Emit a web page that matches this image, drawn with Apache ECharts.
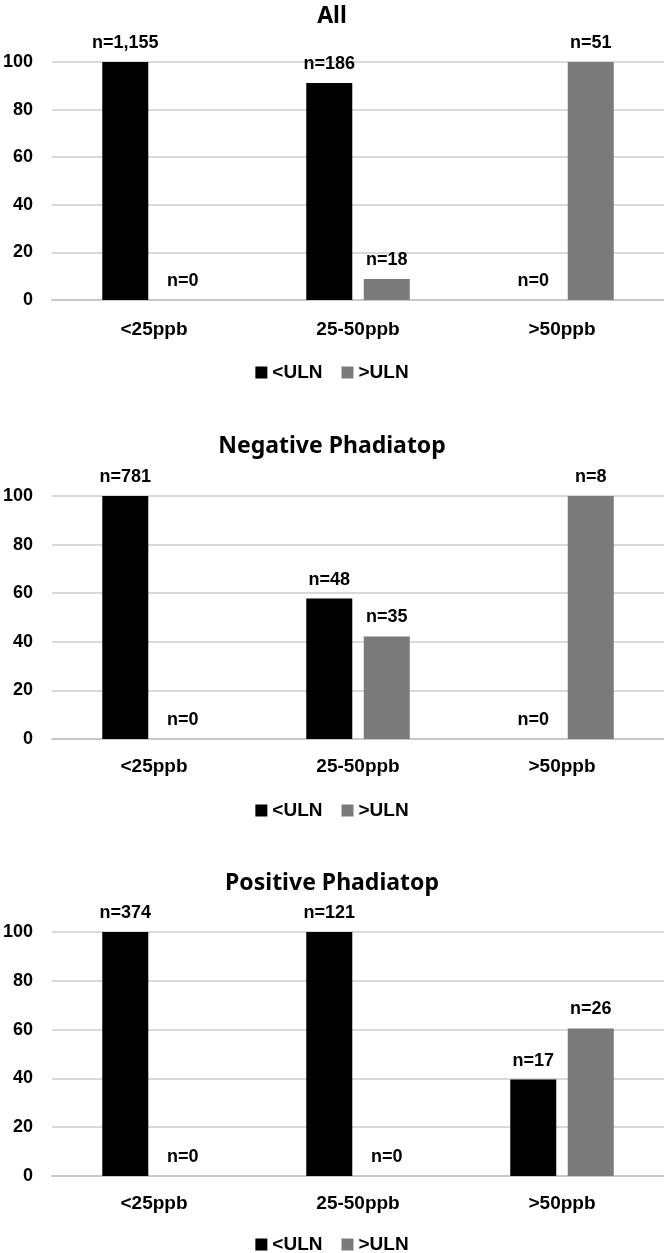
<!DOCTYPE html>
<html>
<head>
<meta charset="utf-8">
<script src="https://cdn.jsdelivr.net/npm/echarts@6/dist/echarts.min.js"></script>
<style>
  html, body { margin: 0; padding: 0; background: #fff; }
  #main { width: 664px; height: 1253px; }
</style>
</head>
<body>
<div id="main"></div>
<script>
var categories = ['<25ppb', '25-50ppb', '>50ppb'];
var titles = ['All', 'Negative Phadiatop', 'Positive Phadiatop'];

// percentage of each group (bar heights)
var allBelow = [100, 91.2, 0];
var allAbove = [0, 8.8, 100];
var negBelow = [100, 57.8, 0];
var negAbove = [0, 42.2, 100];
var posBelow = [100, 100, 39.5];
var posAbove = [0, 0, 60.5];

// counts shown above the bars
var allBelowN = [1155, 186, 0];
var allAboveN = [0, 18, 51];
var negBelowN = [781, 48, 0];
var negAboveN = [0, 35, 8];
var posBelowN = [374, 121, 17];
var posAboveN = [0, 0, 26];

var chartDom = document.getElementById('main');
var myChart = echarts.init(chartDom);

var FONT = 'Liberation Sans, Arial, sans-serif';
var TITLE_FONT = 'Noto Sans, sans-serif';

var panels = [
  { below: allBelow, above: allAbove, nb: allBelowN, na: allAboveN, top: 62, height: 238, titleTop: 0, legendTop: 363, xMargin: 20 },
  { below: negBelow, above: negAbove, nb: negBelowN, na: negAboveN, top: 496, height: 243, titleTop: 430, legendTop: 801, xMargin: 18 },
  { below: posBelow, above: posAbove, nb: posBelowN, na: posAboveN, top: 932, height: 244, titleTop: 867, legendTop: 1235, xMargin: 18 }
];

var grids = [], xAxes = [], yAxes = [], series = [], titleList = [], legends = [];

const nLabel = (counts) => ({
  show: true,
  position: 'top',
  distance: 10,
  color: '#000',
  fontFamily: FONT,
  fontWeight: 'bold',
  fontSize: 18,
  formatter: (p) => 'n=' + counts[p.dataIndex].toLocaleString('en-US')
});

panels.forEach((p, i) => {
  grids.push({ left: 52, right: 0, top: p.top, height: p.height });
  titleList.push({
    text: titles[i],
    left: 'center',
    top: p.titleTop,
    textStyle: { fontFamily: TITLE_FONT, fontWeight: 'bold', fontSize: 23, color: '#000' }
  });
  legends.push({
    data: ['<ULN', '>ULN'],
    top: p.legendTop,
    left: 'center',
    padding: 0,
    icon: 'rect',
    itemWidth: 12,
    itemHeight: 12,
    itemGap: 19,
    selectedMode: false,
    textStyle: { fontFamily: FONT, fontWeight: 'bold', fontSize: 19, color: '#000' }
  });
  xAxes.push({
    type: 'category',
    gridIndex: i,
    data: categories,
    axisTick: { show: false },
    axisLine: { lineStyle: { color: '#c8c8c8', width: 2 } },
    axisLabel: { margin: p.xMargin, color: '#000', fontFamily: FONT, fontWeight: 'bold', fontSize: 19 }
  });
  yAxes.push({
    type: 'value',
    gridIndex: i,
    min: 0,
    max: 100,
    interval: 20,
    axisLine: { show: false },
    axisTick: { show: false },
    splitLine: { lineStyle: { color: '#cccccc', width: 1.5 } },
    axisLabel: { margin: 19, color: '#000', fontFamily: FONT, fontWeight: 'bold', fontSize: 18 }
  });
  series.push({
    name: '<ULN', type: 'bar', xAxisIndex: i, yAxisIndex: i,
    data: p.below, barWidth: 46, barGap: '25%',
    itemStyle: { color: '#000' },
    label: nLabel(p.nb)
  });
  series.push({
    name: '>ULN', type: 'bar', xAxisIndex: i, yAxisIndex: i,
    data: p.above, barWidth: 46, barGap: '25%',
    itemStyle: { color: '#7b7b7b' },
    label: nLabel(p.na)
  });
});

var option = {
  animation: false,
  title: titleList,
  legend: legends,
  grid: grids,
  xAxis: xAxes,
  yAxis: yAxes,
  series: series
};

myChart.setOption(option);
</script>
</body>
</html>
